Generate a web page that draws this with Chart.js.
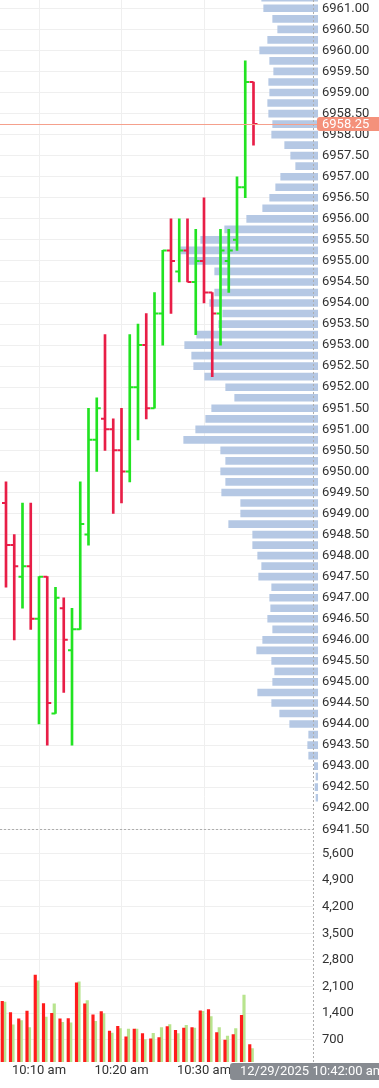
<!DOCTYPE html>
<html>
<head>
<meta charset="utf-8">
<title>1-minute OHLC with volume profile</title>
<script src="https://cdn.jsdelivr.net/npm/chart.js@4.4.1/dist/chart.umd.min.js"></script>
<style>
html,body{margin:0;padding:0;background:#ffffff;overflow:hidden;}
#wrap{position:relative;width:379px;height:1088px;}
canvas{display:block;}
</style>
</head>
<body>
<div id="wrap"><canvas id="chart" width="379" height="1088"></canvas></div>
<script>
// ---- data (minutes after 10:00 am) ----
const minutes = [6,7,8,9,10,11,12,13,14,15,16,17,18,19,20,21,22,23,24,25,26,27,28,29,30,31,32,33,34,35,36];
const openPrices  = [6949.25,6948.25,6947.50,6947.75,6946.50,6947.50,6944.25,6946.75,6945.75,6946.25,6948.50,6950.75,6951.25,6951.00,6950.50,6950.00,6952.00,6953.00,6951.50,6953.75,6955.25,6954.75,6955.25,6954.50,6955.00,6954.25,6953.75,6955.00,6955.50,6956.75,6959.25];
const highPrices  = [6949.75,6948.50,6949.25,6949.25,6947.50,6947.50,6947.25,6947.00,6946.75,6949.75,6951.50,6951.75,6953.25,6951.25,6951.50,6953.25,6953.50,6953.75,6954.25,6955.25,6956.00,6956.00,6956.00,6955.75,6956.50,6954.25,6955.75,6955.75,6957.00,6959.75,6959.25];
const lowPrices   = [6947.25,6946.00,6946.75,6946.25,6944.00,6943.50,6944.25,6944.75,6943.50,6946.25,6948.25,6950.00,6950.50,6949.00,6949.25,6949.75,6950.75,6951.25,6951.50,6953.00,6953.75,6954.50,6954.50,6953.25,6954.00,6952.25,6953.00,6954.25,6955.25,6956.50,6957.75];
const closePrices = [6948.25,6947.75,6947.75,6946.50,6947.50,6944.50,6947.00,6946.00,6946.25,6948.75,6950.75,6951.50,6951.00,6950.50,6950.00,6952.00,6953.00,6951.50,6953.75,6955.25,6955.00,6955.25,6954.50,6955.00,6954.25,6953.75,6955.25,6955.25,6956.75,6959.25,6958.25];
const volumeRed   = [1710,1410,1250,1450,2400,1650,1390,1245,1255,2195,1645,1355,1435,925,1050,770,980,860,720,755,1040,945,1005,1015,1460,1490,885,685,830,1340,570];
const volumeGreen = [1690,1090,1200,1020,2250,1295,1645,1155,1145,2225,1725,1180,1385,875,990,980,980,700,865,1015,1095,860,1075,1005,1445,1305,1015,795,990,1875,465];
const profileLevels = [6961.25,6961.00,6960.75,6960.50,6960.25,6960.00,6959.75,6959.50,6959.25,6959.00,6958.75,6958.50,6958.25,6958.00,6957.75,6957.50,6957.25,6957.00,6956.75,6956.50,6956.25,6956.00,6955.75,6955.50,6955.25,6955.00,6954.75,6954.50,6954.25,6954.00,6953.75,6953.50,6953.25,6953.00,6952.75,6952.50,6952.25,6952.00,6951.75,6951.50,6951.25,6951.00,6950.75,6950.50,6950.25,6950.00,6949.75,6949.50,6949.25,6949.00,6948.75,6948.50,6948.25,6948.00,6947.75,6947.50,6947.25,6947.00,6946.75,6946.50,6946.25,6946.00,6945.75,6945.50,6945.25,6945.00,6944.75,6944.50,6944.25,6944.00,6943.75,6943.50,6943.25,6943.00,6942.75,6942.50,6942.25];
const profileVolume = [560,540,450,400,500,580,480,440,490,480,500,490,450,460,330,270,220,370,420,480,550,710,930,1170,1370,1290,1030,960,1030,1080,950,990,1210,1330,1260,1240,1130,920,830,1060,1120,1220,1340,970,920,970,920,960,770,770,890,650,650,600,560,590,460,480,470,500,450,550,610,460,430,450,600,460,380,280,90,100,90,34,17,27,17];
const timeTicks = [10, 20, 30];
const volumeTicks = [700, 1400, 2100, 2800, 3500, 4200, 4900, 5600];
const crosshairMinute = 42;
const crosshairText = '12/29/2025 10:42:00 am';
const lastPrice = closePrices[closePrices.length - 1];

// ---- styling ----
const UP = '#22e322', DOWN = '#e81e47';
const barColors = minutes.map((m, i) => closePrices[i] >= openPrices[i] ? UP : DOWN);
const GRID = '#efefef';
const TEXT = '#333333';
Chart.defaults.font.family = 'Roboto';
Chart.defaults.font.size = 13;
Chart.defaults.color = TEXT;

function rr(ctx, x, y, w, h, r) {
  ctx.beginPath();
  ctx.moveTo(x + r, y);
  ctx.lineTo(x + w - r, y);
  ctx.quadraticCurveTo(x + w, y, x + w, y + r);
  ctx.lineTo(x + w, y + h - r);
  ctx.quadraticCurveTo(x + w, y + h, x + w - r, y + h);
  ctx.lineTo(x + r, y + h);
  ctx.quadraticCurveTo(x, y + h, x, y + h - r);
  ctx.lineTo(x, y + r);
  ctx.quadraticCurveTo(x, y, x + r, y);
  ctx.closePath();
}

const overlays = {
  id: 'overlays',
  afterDatasetsDraw(chart) {
    const {ctx, chartArea, scales} = chart;
    const y = scales.y;
    ctx.save();
    ctx.strokeStyle = '#adadad';
    ctx.lineWidth = 1;
    ctx.setLineDash([2, 2]);
    // pane separator
    const sy = Math.round(y.bottom) + 0.5;
    ctx.beginPath();
    ctx.moveTo(chartArea.left, sy);
    ctx.lineTo(chartArea.right, sy);
    ctx.stroke();
    // right plot edge
    const sx = Math.round(chartArea.right) + 0.5;
    ctx.beginPath();
    ctx.moveTo(sx, chartArea.top);
    ctx.lineTo(sx, chartArea.bottom);
    ctx.stroke();
    // last price line
    ctx.setLineDash([]);
    const py = Math.round(y.getPixelForValue(lastPrice)) + 0.5;
    ctx.strokeStyle = '#f5a08c';
    ctx.beginPath();
    ctx.moveTo(chartArea.left, py);
    ctx.lineTo(chartArea.right + 5, py);
    ctx.stroke();
    ctx.restore();
  },
  afterDraw(chart) {
    const {ctx, chartArea, scales} = chart;
    ctx.save();
    const py = scales.y.getPixelForValue(lastPrice);
    const bx = chartArea.right + 4;
    ctx.fillStyle = '#f4917b';
    rr(ctx, bx, py - 7, chart.width - bx + 6, 14, 3);
    ctx.fill();
    ctx.fillStyle = '#ffffff';
    ctx.font = '13px Roboto';
    ctx.textAlign = 'left';
    ctx.textBaseline = 'middle';
    ctx.fillText(lastPrice.toFixed(2), scales.y.left + 9, py + 0.5);
    const tx = scales.x.getPixelForValue(crosshairMinute);
    const left = tx - 73, top = chartArea.bottom + 1;
    ctx.fillStyle = '#878b91';
    rr(ctx, left, top, 175, 17, 3);
    ctx.fill();
    ctx.fillStyle = '#ffffff';
    ctx.fillText(crosshairText, left + 10, top + 8.5);
    ctx.restore();
  }
};

const yFit = (axis) => { axis.width = 66; axis.paddingTop = 0; axis.paddingBottom = 0; };

new Chart(document.getElementById('chart'), {
  type: 'line',
  data: {
    datasets: [
      {
        type: 'line', label: 'Open', xAxisID: 'x', yAxisID: 'y', order: 0,
        data: minutes.map((m, i) => ({x: m, y: openPrices[i]})),
        showLine: false, pointStyle: 'dash', pointRotation: 180, pointRadius: 4, pointHoverRadius: 4,
        pointBorderWidth: 2, pointBorderColor: barColors, pointBackgroundColor: barColors
      },
      {
        type: 'line', label: 'Close', xAxisID: 'x', yAxisID: 'y', order: 0,
        data: minutes.map((m, i) => ({x: m, y: closePrices[i]})),
        showLine: false, pointStyle: 'dash', pointRotation: 0, pointRadius: 4, pointHoverRadius: 4,
        pointBorderWidth: 2, pointBorderColor: barColors, pointBackgroundColor: barColors
      },
      {
        type: 'bar', label: 'High-Low', xAxisID: 'x', yAxisID: 'y', order: 1,
        data: minutes.map((m, i) => ({x: m, y: [lowPrices[i], highPrices[i]]})),
        backgroundColor: barColors, grouped: false, maxBarThickness: 2,
        barPercentage: 1, categoryPercentage: 1
      },
      {
        type: 'bar', label: 'Volume profile', indexAxis: 'y', xAxisID: 'xProfile', yAxisID: 'y', order: 3,
        data: profileLevels.map((p, i) => ({x: [0, profileVolume[i]], y: p})),
        backgroundColor: '#b5c8e4', grouped: false, maxBarThickness: 7,
        barPercentage: 1, categoryPercentage: 1,
        clip: {left: 0, top: 0, right: 8, bottom: 0}
      },
      {
        type: 'bar', label: 'Volume A', xAxisID: 'x', yAxisID: 'yVol', order: 2,
        data: minutes.map((m, i) => ({x: m, y: volumeRed[i]})),
        backgroundColor: '#ff1c1c', barThickness: 2.5
      },
      {
        type: 'bar', label: 'Volume B', xAxisID: 'x', yAxisID: 'yVol', order: 2,
        data: minutes.map((m, i) => ({x: m, y: volumeGreen[i]})),
        backgroundColor: '#b8e48e', barThickness: 2.5
      }
    ]
  },
  options: {
    responsive: false,
    animation: false,
    devicePixelRatio: 1,
    events: [],
    layout: {padding: 0, autoPadding: false},
    plugins: {legend: {display: false}, tooltip: {enabled: false}},
    scales: {
      x: {
        type: 'linear', position: 'bottom', min: 5.2727, max: 43.212,
        offset: false,
        grid: {color: GRID, drawTicks: false, offset: false},
        border: {display: false},
        ticks: {
          padding: 1, maxRotation: 0, autoSkip: false, color: TEXT,
          callback: (v) => '10:' + String(v).padStart(2, '0') + ' am'
        },
        afterBuildTicks: (axis) => { axis.ticks = timeTicks.map(v => ({value: v})); },
        afterFit: (axis) => { axis.height = 26; axis.paddingLeft = 0; axis.paddingRight = 0; }
      },
      xProfile: {
        type: 'linear', axis: 'x', position: 'bottom', display: false, reverse: true,
        min: 47, max: 3177, offset: false, grid: {offset: false}
      },
      y: {
        type: 'linear', position: 'right', stack: 'panes', stackWeight: 829.3, weight: 0,
        min: 6941.5, max: 6961.197, beginAtZero: false, offset: false,
        grid: {color: GRID, drawTicks: false, offset: false},
        border: {display: false},
        ticks: {stepSize: 0.5, includeBounds: false, autoSkip: false, padding: 9, color: TEXT, callback: (v) => Number(v).toFixed(2)},
        afterFit: yFit
      },
      yVol: {
        type: 'linear', position: 'right', stack: 'panes', stackWeight: 232.7, weight: 1,
        min: 110, max: 6240, beginAtZero: false, offset: false,
        grid: {color: GRID, drawTicks: false, offset: false},
        border: {display: false},
        ticks: {autoSkip: false, padding: 9, color: TEXT, callback: (v) => Number(v).toLocaleString('en-US')},
        afterBuildTicks: (axis) => { axis.ticks = volumeTicks.map(v => ({value: v})); },
        afterFit: yFit
      }
    }
  },
  plugins: [overlays]
});
</script>
</body>
</html>
